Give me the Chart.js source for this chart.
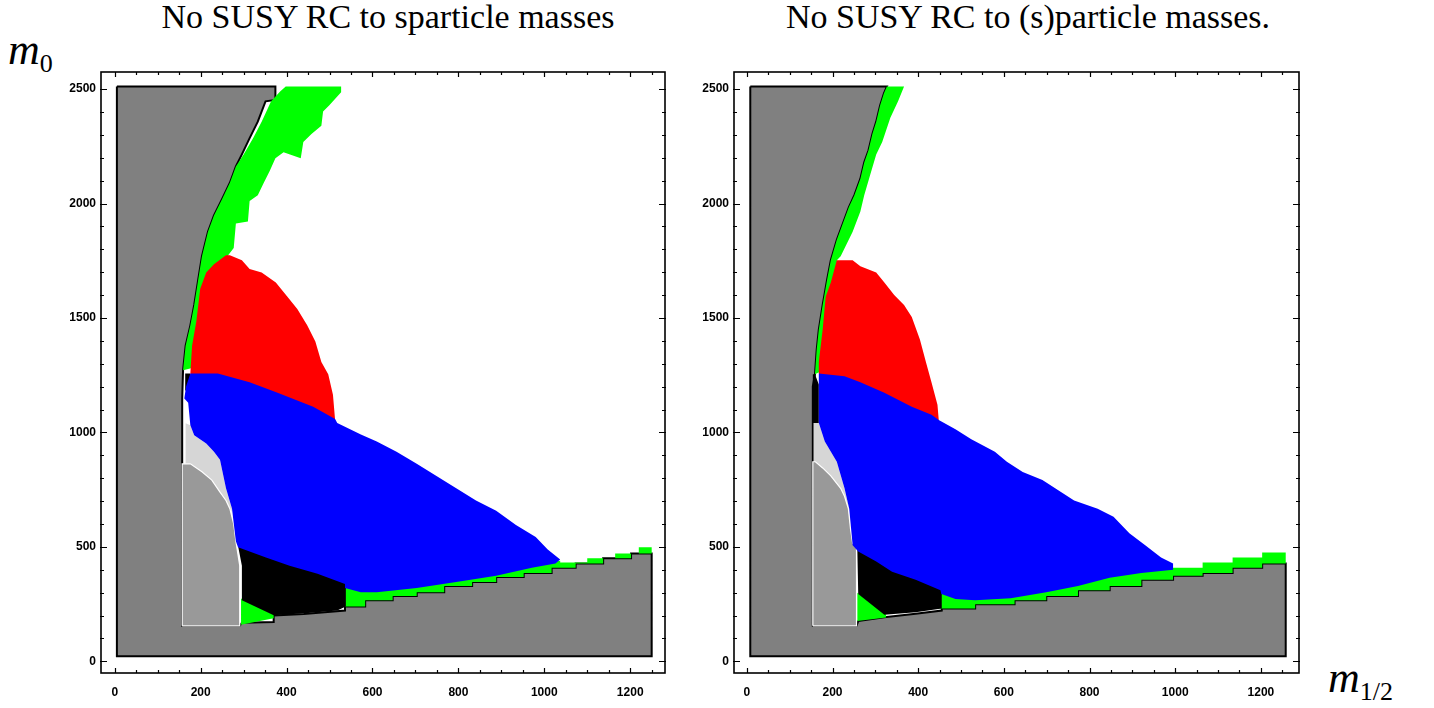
<!DOCTYPE html>
<html>
<head>
<meta charset="utf-8">
<title>m0 - m1/2 plane</title>
<script src="https://cdn.jsdelivr.net/npm/chart.js@4.4.1/dist/chart.umd.min.js"></script>
<style>
  html, body { margin: 0; padding: 0; background: #fff; }
  body { width: 1434px; height: 708px; position: relative; overflow: hidden; }
  .panel { position: absolute; top: 0; height: 708px; }
  .title { position: absolute; width: 600px; text-align: center; font-family: 'Liberation Serif', serif;
           font-size: 34px; line-height: 34px; white-space: nowrap; color: #000; }
  .math { position: absolute; font-family: 'Liberation Serif', serif; font-style: italic;
          font-size: 44px; line-height: 44px; color: #000; white-space: nowrap; }
  .math sub { font-style: normal; font-size: 26px; vertical-align: -8px; }
</style>
</head>
<body>
<div class="title" style="left:88px;top:0px">No SUSY RC to sparticle masses</div>
<div class="title" style="left:728px;top:0px">No SUSY RC to (s)particle masses.</div>
<div class="math" style="left:8px;top:28px">m<sub>0</sub></div>
<div class="math" style="left:1328px;top:656px">m<sub>1/2</sub></div>
<div class="panel" style="left:0;width:700px"><canvas id="left" width="700" height="708"></canvas></div>
<div class="panel" style="left:680px;width:754px"><canvas id="right" width="754" height="708"></canvas></div>
<script>
// axes
const xTicks = [0, 200, 400, 600, 800, 1000, 1200];
const yTicks = [0, 500, 1000, 1500, 2000, 2500];
const xMinorStep = 50;
const yMinorStep = 100;
const xRangeL = [-32, 1281];
const xRangeR = [-30, 1289];
const yRange = [-51, 2575];

// left panel: region boundaries (m1/2, m0)
const lGrayCorners = [[5, 2512], [5, 22], [1250, 22]];
const lGrayStairs = [[1250, 471], [1202, 471], [1202, 450], [1137, 450], [1137, 427], [1073, 427], [1073, 409],
  [1017, 409], [1017, 386], [952, 386], [952, 368], [888, 368], [888, 347], [832, 347], [832, 329], [767, 329],
  [767, 302], [703, 302], [703, 285], [647, 285], [647, 267], [583, 267], [583, 240], [536, 240]];
const lGrayFoot = [[536, 222], [440, 207], [370, 200], [370, 172], [296, 169], [291, 155], [157, 155]];
const lGrayEdge = [[157, 1148], [159, 1272], [165, 1379], [176, 1468], [185, 1557], [194, 1664], [203, 1770],
  [217, 1877], [231, 1948], [250, 2020], [268, 2091], [282, 2162], [296, 2215], [314, 2286], [333, 2358],
  [351, 2447], [374, 2453], [374, 2512]];
const lLight = [[165, 1040], [176, 1032], [185, 988], [213, 952], [231, 916], [245, 881], [259, 756], [273, 667],
  [270, 640], [165, 640]];
const lMidGray = [[157, 155], [291, 155], [291, 418], [282, 525], [277, 600], [268, 667], [259, 703], [245, 739],
  [226, 792], [203, 828], [176, 863], [157, 863]];
const lGreenRight = [[398, 2512], [527, 2512], [527, 2486], [499, 2429], [485, 2402], [481, 2340], [458, 2304],
  [439, 2269], [433, 2198], [393, 2224], [374, 2198], [361, 2144], [347, 2091], [333, 2037], [314, 2011],
  [310, 1922], [282, 1913], [277, 1806], [264, 1774]];
const lGreenInner = [[300, 1600], [220, 1300]];
const lGreenGap = [[300, 2215], [322, 2286], [342, 2358], [364, 2447], [385, 2490]];
const lGreenBandTop = [[520, 345], [1037, 440], [1037, 432], [1100, 432], [1100, 450], [1165, 450], [1165, 471],
  [1220, 471], [1220, 498], [1250, 498]];
const lGreenTri = [[294, 275], [294, 160], [370, 188], [370, 205]];
const lBlackSpeck = [[164, 1183], [176, 1183], [176, 1258], [164, 1258]];
const lBlack = [[287, 505], [352, 470], [407, 435], [472, 400], [538, 355], [538, 240], [518, 222], [444, 210],
  [370, 201], [296, 267], [296, 418]];
const lRed = [[176, 1258], [180, 1379], [190, 1486], [199, 1628], [213, 1699], [231, 1735], [259, 1774], [268, 1774],
  [296, 1753], [314, 1714], [342, 1699], [375, 1655], [402, 1593], [425, 1539], [448, 1468], [467, 1397],
  [481, 1308], [497, 1254], [508, 1165], [513, 1055], [513, 1030], [462, 1090], [379, 1150], [314, 1195],
  [240, 1235], [185, 1240]];
const lBlue = [[176, 1258], [240, 1258], [314, 1219], [379, 1174], [462, 1112], [513, 1059], [518, 1041], [573, 991],
  [610, 961], [656, 916], [703, 863], [749, 810], [795, 756], [841, 703], [888, 658], [934, 596], [980, 543],
  [1008, 489], [1037, 445], [1026, 427], [971, 409], [888, 374], [795, 347], [703, 320], [610, 302], [573, 302],
  [536, 320], [536, 338], [472, 383], [407, 418], [352, 454], [287, 498], [282, 525], [273, 667], [259, 756],
  [245, 881], [231, 916], [213, 952], [185, 988], [176, 1032], [171, 1130], [162, 1148], [166, 1201]];

// right panel
const rGrayCorners = [[8, 2512], [8, 22], [1258, 22]];
const rGrayStairs = [[1258, 427], [1203, 427], [1203, 409], [1134, 409], [1134, 386], [1064, 386], [1064, 374],
  [995, 374], [995, 356], [921, 356], [921, 329], [847, 329], [847, 311], [773, 311], [773, 285], [699, 285],
  [699, 267], [625, 267], [625, 249], [533, 249], [533, 231], [455, 231]];
const rGrayFoot = [[455, 222], [394, 208], [321, 193], [260, 176], [256, 155], [154, 155]];
const rGrayEdge = [[154, 1201], [159, 1254], [163, 1361], [168, 1450], [177, 1557], [187, 1664], [196, 1753],
  [210, 1842], [224, 1913], [238, 1984], [251, 2037], [265, 2109], [274, 2180], [284, 2233], [293, 2304],
  [302, 2358], [311, 2429], [320, 2482], [327, 2512]];
const rLight = [[156, 1045], [168, 1041], [182, 961], [210, 872], [228, 756], [239, 667], [237, 640], [156, 640]];
const rMidGray = [[154, 155], [256, 155], [256, 507], [247, 516], [242, 578], [237, 667], [228, 721], [219, 756],
  [196, 810], [177, 845], [160, 872], [154, 872]];
const rBlackStrip = [[154, 1041], [168, 1041], [168, 1210], [159, 1254], [154, 1254]];
const rGreenRight = [[327, 2512], [367, 2512], [353, 2447], [335, 2375], [316, 2269], [302, 2215], [288, 2126],
  [274, 2037], [265, 1966], [247, 1877], [233, 1824], [219, 1770], [210, 1753]];
const rGreenInner = [[260, 1600], [210, 1300]];
const rGreenBandTop = [[445, 318], [995, 409], [1064, 409], [1064, 432], [1134, 432], [1134, 454], [1203, 454],
  [1203, 475], [1258, 475]];
const rGreenTri = [[258, 300], [258, 176], [325, 192], [325, 205]];
const rBlack = [[258, 495], [302, 450], [339, 405], [394, 370], [455, 325], [455, 231], [394, 214], [321, 203],
  [260, 294], [258, 480]];
const rRed = [[168, 1258], [168, 1308], [177, 1450], [184, 1593], [196, 1655], [210, 1753], [247, 1753], [265, 1726],
  [302, 1699], [321, 1655], [344, 1601], [367, 1557], [385, 1504], [404, 1406], [418, 1308], [431, 1219],
  [445, 1121], [448, 1055], [448, 1030], [385, 1090], [321, 1150], [265, 1200], [200, 1230], [175, 1235]];
const rBlue = [[168, 1258], [228, 1246], [265, 1219], [321, 1174], [385, 1112], [431, 1077], [448, 1055], [487, 1014],
  [524, 970], [579, 916], [607, 872], [644, 827], [690, 792], [727, 747], [764, 703], [819, 667], [856, 632],
  [893, 560], [930, 507], [967, 454], [995, 427], [995, 400], [921, 386], [847, 365], [773, 329], [699, 302],
  [616, 276], [533, 267], [487, 272], [454, 294], [452, 311], [394, 356], [339, 391], [302, 436], [260, 480],
  [247, 507], [239, 667], [228, 756], [210, 872], [182, 961], [168, 1041]];

const GRAY = '#808080', MID = '#999999', LIGHT = '#d6d6d6';
const GREEN = '#00ff00', RED = '#ff0000', BLUE = '#0000ff', BLACK = '#000000';

// one filled polygon = one line dataset, closed with 'shape' fill
function poly(points, color, border, width) {
  return {
    data: points.concat([points[0]]),
    backgroundColor: color,
    borderColor: border || color,
    borderWidth: border ? width : 0,
    fill: 'shape',
    pointRadius: 0,
    tension: 0
  };
}

// frame + inward ticks on all four sides, like the original plot frame
const framePlugin = {
  id: 'frame',
  afterDatasetsDraw(chart) {
    const { ctx, chartArea: a, scales: { x, y } } = chart;
    ctx.save();
    ctx.strokeStyle = '#000';
    ctx.lineWidth = 1.2;
    ctx.beginPath();
    for (let v = 0; v <= x.max; v += xMinorStep) {
      const px = Math.round(x.getPixelForValue(v)) + 0.5;
      const len = xTicks.includes(v) ? 5 : 3;
      ctx.moveTo(px, a.bottom); ctx.lineTo(px, a.bottom - len);
      ctx.moveTo(px, a.top); ctx.lineTo(px, a.top + len);
    }
    for (let v = 0; v <= yTicks[yTicks.length - 1]; v += yMinorStep) {
      const py = Math.round(y.getPixelForValue(v)) + 0.5;
      const len = yTicks.includes(v) ? 6 : 3;
      ctx.moveTo(a.left - 1, py); ctx.lineTo(a.left + len, py);
      ctx.moveTo(a.right + 1, py); ctx.lineTo(a.right - len, py);
    }
    ctx.stroke();
    ctx.lineWidth = 1.6;
    ctx.strokeRect(a.left, a.top, a.right - a.left, a.bottom - a.top);
    ctx.restore();
  }
};

function makeChart(id, xRange, yWidth, padding, polys) {
  // later polygons are drawn on top
  const datasets = polys.map((d, i) => Object.assign(d, { order: -i }));
  const tickFont = { family: 'Liberation Sans', size: 12, weight: 'bold' };
  return new Chart(document.getElementById(id), {
    type: 'line',
    data: { datasets },
    options: {
      responsive: false,
      animation: false,
      events: [],
      layout: { padding },
      plugins: { legend: { display: false }, tooltip: { enabled: false } },
      scales: {
        x: {
          type: 'linear', min: xRange[0], max: xRange[1],
          afterBuildTicks: s => { s.ticks = xTicks.map(v => ({ value: v })); },
          afterFit: s => { s.height = 30; },
          grid: { display: false, drawTicks: false },
          border: { display: false },
          ticks: { color: '#000', font: tickFont, padding: 12, maxRotation: 0, autoSkip: false, callback: v => `${v}` }
        },
        y: {
          type: 'linear', min: yRange[0], max: yRange[1],
          afterBuildTicks: s => { s.ticks = yTicks.map(v => ({ value: v })); },
          afterFit: s => { s.width = yWidth; },
          grid: { display: false, drawTicks: false },
          border: { display: false },
          ticks: { color: '#000', font: tickFont, padding: 5, autoSkip: false, callback: v => `${v}` }
        }
      }
    },
    plugins: [framePlugin]
  });
}

makeChart('left', xRangeL, 101, { left: 0, right: 35, top: 72, bottom: 5 }, [
  poly([...lGrayCorners, ...lGrayStairs, ...lGrayFoot, ...lGrayEdge], GRAY, BLACK, 2),
  poly(lLight, LIGHT),
  poly(lMidGray, MID, '#ffffff', 1.2),
  poly([...lGreenRight, ...lGreenInner, ...lGrayEdge.slice(1, 12), ...lGreenGap], GREEN),
  poly([...lGreenBandTop, ...lGrayStairs, [520, 240]], GREEN),
  poly(lGreenTri, GREEN),
  poly(lBlackSpeck, BLACK),
  poly(lBlack, BLACK),
  poly(lRed, RED),
  poly(lBlue, BLUE)
]);

makeChart('right', xRangeR, 54, { left: 0, right: 135, top: 72, bottom: 5 }, [
  poly([...rGrayCorners, ...rGrayStairs, ...rGrayFoot, ...rGrayEdge], GRAY, BLACK, 2),
  poly(rLight, LIGHT),
  poly(rMidGray, MID, '#ffffff', 1.2),
  poly([...rGreenRight, ...rGreenInner, ...rGrayEdge.slice(1)], GREEN),
  poly([...rGreenBandTop, ...rGrayStairs, [445, 231]], GREEN),
  poly(rGreenTri, GREEN),
  poly(rBlackStrip, BLACK),
  poly(rBlack, BLACK),
  poly(rRed, RED),
  poly(rBlue, BLUE)
]);
</script>
</body>
</html>
